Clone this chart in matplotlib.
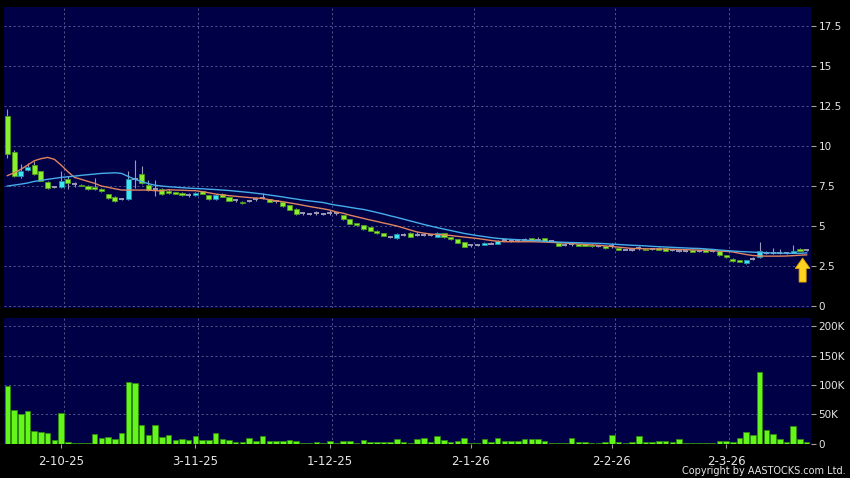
import matplotlib
matplotlib.use("Agg")
import matplotlib.pyplot as plt
from matplotlib.patches import Rectangle, FancyArrow
import numpy as np

# ---------------- data ----------------
opens = [11.9, 9.6, 8.12, 8.5, 8.8, 8.42, 7.77, 7.42, 7.42, 7.92,
         7.6, 7.56, 7.52, 7.46, 7.29, 6.98, 6.83, 6.67, 6.67, 7.96,
         8.25, 7.56, 7.29, 7.29, 7.21, 7.1, 7.04, 6.92, 6.96, 7.17,
         6.92, 6.67, 7.0, 6.79, 6.63, 6.5, 6.58, 6.67, 6.75, 6.67,
         6.54, 6.5, 6.29, 6.08, 5.79, 5.75, 5.79, 5.75, 5.79, 5.79,
         5.69, 5.42, 5.17, 5.04, 4.92, 4.71, 4.54, 4.33, 4.25, 4.46,
         4.58, 4.46, 4.46, 4.42, 4.33, 4.54, 4.29, 4.17, 4.0, 3.79,
         3.83, 3.83, 3.9, 3.9, 4.1, 4.08, 4.08, 4.15, 4.23, 4.15,
         4.23, 4.08, 3.94, 3.83, 3.9, 3.85, 3.85, 3.83, 3.77, 3.77,
         3.73, 3.6, 3.52, 3.52, 3.6, 3.58, 3.58, 3.65, 3.625, 3.5,
         3.46, 3.42, 3.5, 3.42, 3.54, 3.42, 3.42, 3.21, 2.96, 2.88,
         2.67, 2.96, 3.08, 3.33, 3.33, 3.33, 3.33, 3.33, 3.58, 3.5]
highs = [12.3, 9.75, 8.9, 8.96, 9.06, 8.45, 7.8, 7.5, 8.46, 8.1,
         7.75, 7.6, 7.55, 8.0, 7.35, 7.0, 6.85, 6.75, 8.46, 9.12,
         8.73, 7.9, 7.9, 7.35, 7.3, 7.15, 7.1, 7.04, 7.1, 7.2,
         6.95, 7.0, 7.05, 6.8, 6.7, 6.55, 6.65, 6.8, 7.05, 6.7,
         6.6, 6.52, 6.3, 6.1, 5.85, 5.8, 5.95, 5.8, 6.0, 5.85,
         5.72, 5.45, 5.2, 5.06, 4.95, 4.73, 4.56, 4.4, 4.55, 4.55,
         4.6, 4.6, 4.55, 4.5, 4.6, 4.56, 4.3, 4.18, 4.02, 3.9,
         3.9, 4.0, 4.0, 4.1, 4.15, 4.12, 4.2, 4.25, 4.26, 4.3,
         4.25, 4.12, 3.96, 3.9, 4.02, 3.87, 3.86, 3.85, 3.8, 3.78,
         3.92, 3.62, 3.56, 3.6, 3.73, 3.6, 3.62, 3.67, 3.64, 3.56,
         3.5, 3.48, 3.52, 3.5, 3.56, 3.48, 3.44, 3.22, 2.98, 2.9,
         2.9, 3.04, 4.0, 3.42, 3.6, 3.54, 3.4, 3.79, 3.6, 3.56]
lows = [9.25, 8.05, 7.98, 8.45, 8.2, 7.8, 7.3, 7.35, 7.4, 7.29,
        7.45, 7.5, 7.25, 7.25, 7.15, 6.7, 6.5, 6.6, 6.6, 7.4,
        7.6, 7.2, 6.9, 6.95, 7.0, 7.0, 6.9, 6.8, 6.9, 6.98,
        6.65, 6.65, 6.8, 6.55, 6.5, 6.4, 6.5, 6.55, 6.7, 6.48,
        6.45, 6.22, 5.98, 5.72, 5.72, 5.7, 5.72, 5.7, 5.72, 5.7,
        5.4, 5.1, 5.0, 4.77, 4.69, 4.52, 4.36, 4.25, 4.2, 4.4,
        4.3, 4.35, 4.4, 4.35, 4.3, 4.27, 4.15, 3.94, 3.69, 3.7,
        3.75, 3.8, 3.85, 3.88, 4.05, 4.02, 4.0, 4.05, 4.05, 4.05,
        4.06, 4.0, 3.75, 3.78, 3.78, 3.75, 3.76, 3.71, 3.7, 3.58,
        3.6, 3.5, 3.48, 3.42, 3.52, 3.48, 3.52, 3.48, 3.44, 3.45,
        3.4, 3.36, 3.36, 3.36, 3.36, 3.36, 3.15, 3.02, 2.77, 2.73,
        2.65, 2.88, 3.0, 3.25, 3.28, 3.25, 3.28, 3.3, 3.44, 3.46]
closes = [9.5, 8.1, 8.45, 8.67, 8.25, 7.83, 7.35, 7.42, 7.79, 7.71,
          7.6, 7.52, 7.29, 7.29, 7.21, 6.73, 6.58, 6.67, 7.92, 7.96,
          7.67, 7.25, 7.29, 6.98, 7.05, 7.02, 6.92, 6.92, 7.06, 7.0,
          6.67, 6.96, 6.83, 6.58, 6.63, 6.42, 6.58, 6.67, 6.75, 6.5,
          6.54, 6.25, 6.0, 5.75, 5.79, 5.75, 5.79, 5.75, 5.79, 5.79,
          5.42, 5.125, 5.04, 4.79, 4.71, 4.54, 4.375, 4.33, 4.5, 4.46,
          4.33, 4.46, 4.46, 4.42, 4.54, 4.29, 4.17, 3.96, 3.71, 3.79,
          3.83, 3.96, 3.9, 4.06, 4.1, 4.08, 4.08, 4.15, 4.08, 4.15,
          4.08, 4.08, 3.77, 3.83, 3.9, 3.77, 3.77, 3.73, 3.77, 3.6,
          3.73, 3.52, 3.52, 3.52, 3.6, 3.5, 3.58, 3.5, 3.46, 3.5,
          3.46, 3.42, 3.375, 3.42, 3.375, 3.42, 3.17, 3.04, 2.79, 2.75,
          2.88, 2.96, 3.42, 3.33, 3.33, 3.33, 3.33, 3.46, 3.46, 3.5]
# volume in thousands of shares
volumes = [98, 58, 50, 56, 21, 20.5, 17.7, 6.8, 53, 2.3,
           0.5, 0.5, 0.5, 16, 10, 11.4, 7.4, 18, 105, 103,
           31, 15.4, 32, 11.4, 14, 5.7, 7.4, 5.7, 13, 5.7,
           5.7, 17.7, 8, 5.7, 3.4, 3.4, 9, 4, 13, 4,
           4.6, 5, 6.3, 4, 1.7, 1.7, 2.3, 1.1, 4, 1.7,
           4, 4, 1.7, 6.3, 2.8, 3.4, 2.3, 2.8, 8.5, 2.8,
           1.7, 8, 9, 2.3, 12.5, 5.7, 2.3, 5, 10, 1.7,
           0.5, 8.5, 3.4, 9.7, 4, 4, 4, 8, 7.4, 8.5,
           4.6, 1.7, 1.7, 1.7, 10, 3.4, 2.3, 1.7, 1.7, 3.4,
           15.4, 3.4, 1.7, 3.4, 13.7, 2.3, 2.3, 5, 5, 2.3,
           8.5, 0.5, 0.5, 0.5, 1.7, 1.7, 5, 5, 3.4, 9.7,
           20.5, 14, 122.5, 22.8, 16, 7.4, 3.4, 30, 7.4, 2.3]
ma_short = [8.15, 8.33, 8.54, 8.81, 9.08, 9.21, 9.29, 9.17, 8.81, 8.4,
            8.04, 7.92, 7.79, 7.67, 7.5, 7.42, 7.33, 7.25, 7.25, 7.25,
            7.25, 7.25, 7.21, 7.2, 7.27, 7.25, 7.24, 7.22, 7.21, 7.15,
            7.08, 7.0, 6.95, 6.9, 6.86, 6.82, 6.78, 6.75, 6.72, 6.65,
            6.58, 6.52, 6.45, 6.38, 6.3, 6.22, 6.15, 6.08, 6.0, 5.88,
            5.8, 5.68, 5.58, 5.48, 5.38, 5.29, 5.19, 5.1, 5.0, 4.88,
            4.75, 4.63, 4.56, 4.5, 4.47, 4.45, 4.41, 4.36, 4.31, 4.27,
            4.22, 4.16, 4.1, 4.05, 4.02, 4.02, 4.02, 4.02, 4.02, 4.01,
            4.0, 3.98, 3.96, 3.94, 3.91, 3.88, 3.85, 3.82, 3.8, 3.76,
            3.72, 3.68, 3.64, 3.6, 3.59, 3.58, 3.57, 3.57, 3.56, 3.55,
            3.54, 3.52, 3.51, 3.5, 3.48, 3.46, 3.44, 3.42, 3.38, 3.3,
            3.22, 3.16, 3.13, 3.12, 3.12, 3.12, 3.13, 3.15, 3.18, 3.2]
ma_long = [7.5, 7.56, 7.62, 7.69, 7.79, 7.85, 7.92, 7.98, 8.04, 8.08,
           8.12, 8.17, 8.21, 8.25, 8.29, 8.31, 8.33, 8.29, 8.1, 7.92,
           7.78, 7.65, 7.55, 7.5, 7.46, 7.43, 7.4, 7.37, 7.35, 7.33,
           7.3, 7.28, 7.25, 7.22, 7.18, 7.14, 7.1, 7.05, 7.0, 6.94,
           6.88, 6.82, 6.75, 6.69, 6.62, 6.57, 6.52, 6.47, 6.38, 6.3,
           6.24, 6.17, 6.1, 6.04, 5.95, 5.85, 5.75, 5.64, 5.54, 5.43,
           5.32, 5.21, 5.1, 5.0, 4.9, 4.81, 4.72, 4.63, 4.54, 4.47,
           4.4, 4.34, 4.28, 4.23, 4.2, 4.17, 4.15, 4.12, 4.1, 4.08,
           4.05, 4.03, 4.0, 3.98, 3.97, 3.96, 3.94, 3.93, 3.92, 3.9,
           3.87, 3.85, 3.82, 3.8, 3.78, 3.76, 3.73, 3.71, 3.69, 3.67,
           3.65, 3.63, 3.61, 3.6, 3.57, 3.54, 3.5, 3.47, 3.44, 3.41,
           3.39, 3.37, 3.35, 3.33, 3.32, 3.31, 3.3, 3.3, 3.3, 3.32]
date_tick_pos = [8, 28, 48, 69, 90, 107]
date_tick_labels = ["2-10-25", "3-11-25", "1-12-25", "2-1-26", "2-2-26", "2-3-26"]
price_ticks = [0, 2.5, 5, 7.5, 10, 12.5, 15, 17.5]
price_tick_labels = ["0", "2.5", "5", "7.5", "10", "12.5", "15", "17.5"]
vol_ticks = [0, 50, 100, 150, 200]
vol_tick_labels = ["0", "50K", "100K", "150K", "200K"]

# ---------------- styling ----------------
BG = "#000046"
FIG_BG = "#000000"
GREEN = "#8AF02E"
GREEN_EDGE = "#4E9A1E"
CYAN = "#3FE6F2"
CYAN_EDGE = "#1E8FA8"
GRAY = "#9A9AB4"
WICK = "#9A9AB8"
VOL = "#66F51A"
VOL_EDGE = "#2E8A10"
GRID = "#5C6496"
TXT = "#E6E6E6"

W, H = 850, 478
fig = plt.figure(figsize=(W / 100, H / 100), dpi=100, facecolor=FIG_BG)

def fx(px):
    return px / W

def fy(py):
    return 1 - py / H

left, right = 4, 810.7
ax = fig.add_axes([fx(left), fy(307.5), fx(right - left), fy(7) - fy(307.5)])
axv = fig.add_axes([fx(left), fy(443.6), fx(right - left), fy(318.3) - fy(443.6)])

n = len(closes)
x = np.arange(n)
xlim = (-0.5, 119.6)
dash = (0, (2.5, 3))

for a in (ax, axv):
    a.set_facecolor(BG)
    a.set_xlim(*xlim)
    for s in a.spines.values():
        s.set_visible(False)
    a.yaxis.tick_right()
    a.tick_params(axis="y", colors=TXT, labelcolor=TXT, labelsize=7.5,
                  length=3.5, width=0.8, pad=2, direction="out")
    a.tick_params(axis="y", color="#A0A0A0")
    a.set_axisbelow(True)
    for t in date_tick_pos:
        a.axvline(t + 0.4, color=GRID, lw=0.6, ls=dash, zorder=0)

ax.set_ylim(-0.09, 18.69)
ax.set_yticks(price_ticks)
ax.set_yticklabels(price_tick_labels)
ax.set_xticks([])
for t in price_ticks:
    ax.axhline(t, color=GRID, lw=0.6, ls=dash, zorder=0)

axv.set_ylim(0, 213.7)
axv.set_yticks(vol_ticks)
axv.set_yticklabels(vol_tick_labels)
for t in vol_ticks[1:]:
    axv.axhline(t, color=GRID, lw=0.6, ls=dash, zorder=0)
axv.set_xticks(date_tick_pos)
axv.set_xticklabels(date_tick_labels)
axv.tick_params(axis="x", colors="#A0A0A0", labelcolor=TXT, labelsize=8.5,
                length=3, width=0.8, pad=5, direction="out")

# ---------------- candles ----------------
bw = 0.76
for i in range(n):
    o, h, l, c = opens[i], highs[i], lows[i], closes[i]
    ax.vlines(x[i], l, h, color=WICK, lw=0.8, zorder=2)
    if c < o:
        fc, ec = GREEN, GREEN_EDGE
    elif c > o:
        fc, ec = CYAN, CYAN_EDGE
    else:
        fc, ec = GRAY, GRAY
    if c == o:
        ax.hlines(c, x[i] - bw / 2, x[i] + bw / 2, color=GRAY, lw=1.4, zorder=3)
    else:
        ax.add_patch(Rectangle((x[i] - bw / 2, min(o, c)), bw, abs(c - o),
                               facecolor=fc, edgecolor=ec, lw=0.6, zorder=3))

ax.plot(x, ma_short, color="#E0845E", lw=1.0, zorder=4)
ax.plot(x, ma_long, color="#45AEEA", lw=1.0, zorder=4)

# marker arrow for latest bar
ax.add_patch(FancyArrow(118.4, 1.5, 0, 1.5, width=1.05, head_width=2.2,
                        head_length=0.65, length_includes_head=True,
                        facecolor="#FFD21F", edgecolor="#E0A000", lw=0.6, zorder=5))

# ---------------- volume ----------------
axv.bar(x, volumes, width=0.82, color=VOL, edgecolor=VOL_EDGE, lw=0.6, zorder=2)

fig.text(fx(846), fy(471), "Copyright by AASTOCKS.com Ltd.", color=TXT,
         fontsize=7, ha="right", va="center")

fig.savefig("out.png", dpi=100, facecolor=FIG_BG)
